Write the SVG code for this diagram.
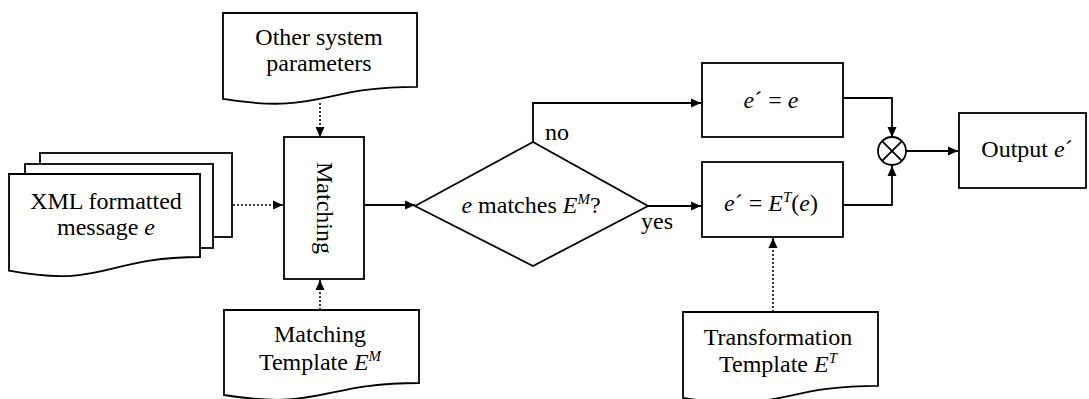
<svg xmlns="http://www.w3.org/2000/svg" width="1089" height="399" viewBox="0 0 1089 399" font-family="'Liberation Serif', 'DejaVu Serif', serif">
  <style>
    .shape { fill: #fff; stroke: #000; stroke-width: 1.8; }
    .line { fill: none; stroke: #000; stroke-width: 1.8; }
    .dotted { fill: none; stroke: #000; stroke-width: 1.6; stroke-dasharray: 2 2; }
    text { font-family: 'Liberation Serif', 'DejaVu Serif', serif; font-size: 24px; fill: #000; text-anchor: middle; }
    .it { font-style: italic; }
    .sup { font-style: italic; font-size: 15px; }
    .lbl { text-anchor: start; }
  </style>
  <defs>
    <marker id="arrow" markerUnits="userSpaceOnUse" markerWidth="11" markerHeight="10" refX="10" refY="5" orient="auto">
      <path d="M0,0.5 L10,5 L0,9.5 Z" fill="#000"/>
    </marker>
  </defs>

  <rect width="1089" height="399" fill="#fff"/>

  <!-- Connectors -->
  <g id="connectors">
    <line class="dotted" x1="233" y1="205" x2="283" y2="205" marker-end="url(#arrow)"/>
    <line class="dotted" x1="320" y1="103" x2="320" y2="137" marker-end="url(#arrow)"/>
    <line class="dotted" x1="320" y1="310" x2="320" y2="280" marker-end="url(#arrow)"/>
    <line class="line" x1="364" y1="205" x2="415" y2="205" marker-end="url(#arrow)"/>
    <polyline class="line" points="533,142 533,103 701,103" marker-end="url(#arrow)"/>
    <line class="line" x1="648" y1="206" x2="701" y2="206" marker-end="url(#arrow)"/>
    <polyline class="line" points="843,98 892,98 892,137" marker-end="url(#arrow)"/>
    <polyline class="line" points="843,205 892,205 892,166" marker-end="url(#arrow)"/>
    <line class="line" x1="906" y1="151" x2="958" y2="151" marker-end="url(#arrow)"/>
    <line class="dotted" x1="773" y1="312" x2="773" y2="238" marker-end="url(#arrow)"/>
    <text class="lbl" x="545" y="140">no</text>
    <text class="lbl" x="641" y="229">yes</text>
  </g>

  <!-- Stacked XML message documents -->
  <g id="xml-message">
    <rect class="shape" x="40" y="153" width="192" height="84"/>
    <rect class="shape" x="25" y="164" width="188" height="84"/>
    <path class="shape" d="M9,174 H200 V257 C104.5,257 104.5,288.6 9,270.7 Z"/>
    <text x="106" y="209">XML formatted</text>
    <text x="106" y="235">message <tspan class="it">e</tspan></text>
  </g>

  <g id="other-parameters">
    <path class="shape" d="M223,13 H417 V86.8 C320,86.8 320,114.8 223,98.9 Z"/>
    <text x="319" y="45">Other system</text>
    <text x="319" y="71">parameters</text>
  </g>

  <g id="matching">
    <rect class="shape" x="284" y="137" width="80" height="142"/>
    <text transform="translate(324,208) rotate(90)" x="0" y="7">Matching</text>
  </g>

  <g id="matching-template">
    <path class="shape" d="M224,310 H419 V383 C321.5,383 321.5,410.7 224,395 Z"/>
    <text x="320" y="342">Matching</text>
    <text x="320" y="370">Template <tspan class="it">E</tspan><tspan class="sup" dy="-9">M</tspan></text>
  </g>

  <g id="decision">
    <polygon class="shape" points="415,206 533,142 648,206 533,266"/>
    <text x="531" y="213"><tspan class="it">e</tspan> matches <tspan class="it">E</tspan><tspan class="sup" dy="-9">M</tspan><tspan dy="9">?</tspan></text>
  </g>

  <g id="identity">
    <rect class="shape" x="702" y="63" width="141" height="74"/>
    <text x="771" y="108"><tspan class="it">e</tspan>´ = <tspan class="it">e</tspan></text>
  </g>

  <g id="transform">
    <rect class="shape" x="702" y="162" width="141" height="75"/>
    <text x="771" y="211"><tspan class="it">e</tspan>´ = <tspan class="it">E</tspan><tspan class="sup" dy="-9">T</tspan><tspan dy="9">(</tspan><tspan class="it">e</tspan>)</text>
  </g>

  <g id="transformation-template">
    <path class="shape" d="M683,312 H878 V385.8 C780.5,385.8 780.5,413.8 683,397.9 Z"/>
    <text x="778" y="345">Transformation</text>
    <text x="778" y="372">Template <tspan class="it">E</tspan><tspan class="sup" dy="-9">T</tspan></text>
  </g>

  <g id="combiner">
    <circle class="shape" cx="892" cy="151" r="14"/>
    <path class="line" d="M882.1,141.1 L901.9,160.9 M901.9,141.1 L882.1,160.9" stroke-width="1.4"/>
  </g>

  <g id="output">
    <rect class="shape" x="959" y="113" width="127" height="75"/>
    <text x="1027" y="157">Output <tspan class="it">e</tspan>´</text>
  </g>
</svg>
